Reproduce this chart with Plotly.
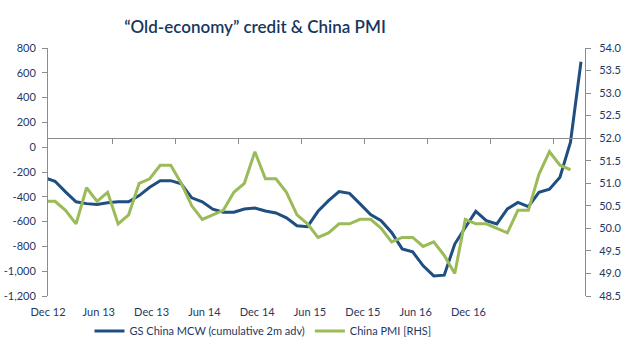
import plotly.graph_objects as go

# Monthly data, Nov 2012 .. Feb 2017 (month index: Dec 2012 = 0)
mcw_start_index = -1
mcw = [-245, -275, -360, -440, -455, -462, -448, -440, -440, -390, -323, -270,
       -270, -296, -408, -440, -500, -525, -525, -498, -490, -515, -530, -570,
       -633, -641, -517, -431, -358, -372, -457, -544, -593, -688, -820, -844,
       -957, -1038, -1032, -781, -647, -517, -593, -619, -498, -445, -479, -364,
       -339, -242, 41, 689]

pmi_start_index = -1
pmi = [50.6, 50.6, 50.4, 50.1, 50.9, 50.6, 50.8, 50.1, 50.3, 51.0, 51.1, 51.4,
       51.4, 51.0, 50.5, 50.2, 50.3, 50.4, 50.8, 51.0, 51.7, 51.1, 51.1, 50.8,
       50.3, 50.1, 49.8, 49.9, 50.1, 50.1, 50.2, 50.2, 50.0, 49.7, 49.8, 49.8,
       49.6, 49.7, 49.4, 49.0, 50.2, 50.1, 50.1, 50.0, 49.9, 50.4, 50.4, 51.2,
       51.7, 51.4, 51.3]

x_labels = ["Dec 12", "Jun 13", "Dec 13", "Jun 14", "Dec 14", "Jun 15", "Dec 15", "Jun 16", "Dec 16"]
left_ticks = [800, 600, 400, 200, 0, -200, -400, -600, -800, -1000, -1200]
left_tick_text = ["800", "600", "400", "200", "0", "-200", "-400", "-600", "-800", "-1,000", "-1,200"]

x_mcw = [mcw_start_index + i for i in range(len(mcw))]
x_pmi = [pmi_start_index + i for i in range(len(pmi))]

# axis styling
X_RANGE = [-0.665, 50.38]
label_pos = [max(-0.86 + 5.02 * k, X_RANGE[0] + 0.005) for k in range(len(x_labels))]
tick_pos = [5.42 + 6 * k for k in range(8)]
Y2_RANGE = [48.5, 54.0]
cross_at = 52.0
cross_pos = (cross_at - Y2_RANGE[0]) / (Y2_RANGE[1] - Y2_RANGE[0])

NAVY = "#1F3864"
AXIS = "#8C8C8C"
FONT = "Lato"

fig = go.Figure()
fig.add_trace(go.Scatter(
    x=x_mcw, y=mcw, mode="lines", name="GS China MCW (cumulative 2m adv)",
    line=dict(color="#1F4E80", width=3), xaxis="x", yaxis="y"))
fig.add_trace(go.Scatter(
    x=x_pmi, y=pmi, mode="lines", name="China PMI [RHS]",
    line=dict(color="#9BBB59", width=3), xaxis="x2", yaxis="y2"))

fig.update_layout(
    width=624, height=349,
    margin=dict(l=48, r=39, t=48, b=53, autoexpand=False),
    paper_bgcolor="white", plot_bgcolor="white",
    font=dict(family=FONT, size=11, color=NAVY),
    title=dict(text="“Old-economy” credit & China PMI",
               font=dict(family=FONT, size=17, color="#17375E", weight=600),
               xref="container", yref="container",
               x=255 / 624, xanchor="center", y=1 - 27 / 349, yanchor="middle"),
    xaxis=dict(range=X_RANGE, domain=[0, 1], anchor="free", position=0,
               showline=False, showgrid=False, zeroline=False, ticks="",
               tickvals=label_pos, ticktext=x_labels, ticklabelstandoff=8,
               tickfont=dict(size=11, color=NAVY), automargin=False),
    xaxis2=dict(range=X_RANGE, domain=[0, 1], overlaying="x", anchor="free",
                position=cross_pos, showline=True, linecolor=AXIS, linewidth=1,
                showgrid=False, zeroline=False, ticks="outside", ticklen=5,
                tickcolor=AXIS, tickvals=tick_pos, showticklabels=False,
                automargin=False),
    yaxis=dict(range=[-1200, 800], tickvals=left_ticks, ticktext=left_tick_text,
               showline=True, linecolor=AXIS, linewidth=1, ticks="outside",
               ticklen=5, tickcolor=AXIS, showgrid=False, zeroline=False,
               ticklabelstandoff=4, anchor="x", automargin=False),
    yaxis2=dict(range=Y2_RANGE, dtick=0.5, tick0=48.5, tickformat=".1f",
                overlaying="y", side="right", anchor="x2",
                showline=True, linecolor=AXIS, linewidth=1, ticks="outside",
                ticklen=5, tickcolor=AXIS, showgrid=False, zeroline=False,
                ticklabelstandoff=6, automargin=False),
    legend=dict(orientation="h", xref="container", yref="container",
                x=263 / 624, xanchor="center", y=1 - 331 / 349,
                yanchor="middle", font=dict(size=11, color=NAVY),
                bgcolor="rgba(0,0,0,0)"),
    showlegend=True,
)

fig.write_html("out.html")
